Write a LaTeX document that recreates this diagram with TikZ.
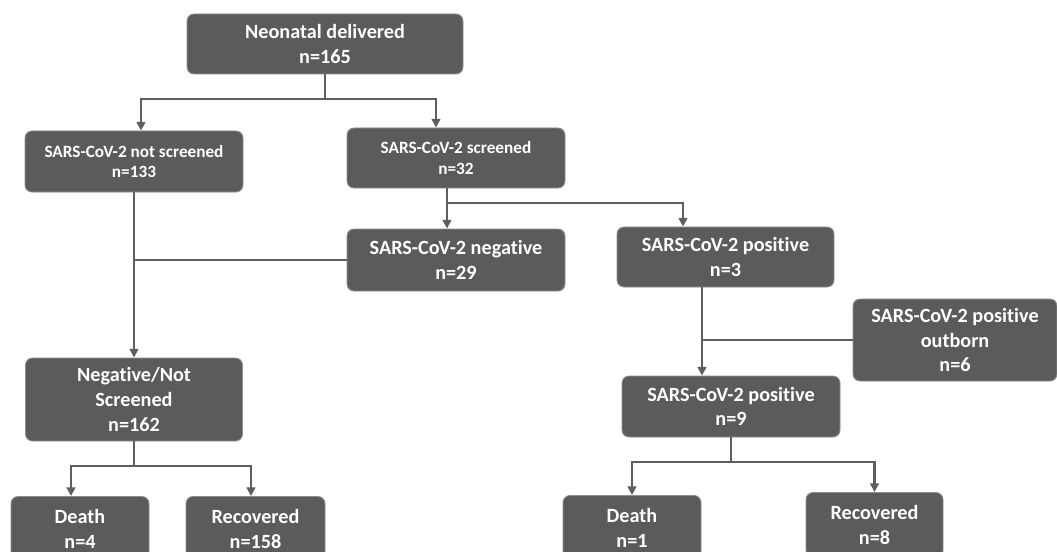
\documentclass[tikz,border=0pt]{standalone}
\usepackage{fontspec}
\setmainfont{Carlito}[Ligatures=NoCommon]
\usepackage{tikz}
\usetikzlibrary{arrows.meta}

\definecolor{boxgray}{HTML}{5B5B5B}
\definecolor{edgegray}{HTML}{8E8E8E}
\definecolor{linegray}{HTML}{5E5E5E}

\tikzset{
  box/.style={draw=edgegray, line width=0.5pt, fill=boxgray, rounded corners=0.14cm,
    text=white, font=\bfseries\fontsize{11.5}{14}\selectfont, align=center, inner sep=1pt},
  smallbox/.style={box, font=\bfseries\fontsize{9.8}{11.6}\selectfont},
  link/.style={draw=linegray, line width=1.3pt},
  arr/.style={link, -{Triangle[length=5pt,width=5pt]}},
}

\begin{document}
\begin{tikzpicture}
\useasboundingbox (0,0) rectangle (21.14,11.02);
% Delivered and screening
\node[box, minimum width=5.52cm, minimum height=1.2cm] (deliv) at (6.5,10.14) {Neonatal delivered\\n=165};
\node[smallbox, minimum width=4.36cm, minimum height=1.22cm] (notscr) at (2.68,7.79) {SARS-CoV-2 not screened\\n=133};
\node[smallbox, minimum width=4.36cm, minimum height=1.2cm] (scr) at (9.12,7.86) {SARS-CoV-2 screened\\n=32};
% Screening results
\node[box, minimum width=4.36cm, minimum height=1.24cm] (neg) at (9.12,5.82) {SARS-CoV-2 negative\\n=29};
\node[box, minimum width=4.34cm, minimum height=1.2cm] (pos3) at (14.51,5.88) {SARS-CoV-2 positive\\n=3};
\node[box, minimum width=4.08cm, minimum height=1.64cm] (outb) at (19.1,4.22) {SARS-CoV-2 positive\\outborn\\n=6};
\node[box, minimum width=4.36cm, minimum height=1.22cm] (pos9) at (14.62,2.89) {SARS-CoV-2 positive\\n=9};
\node[box, minimum width=4.34cm, minimum height=1.66cm] (negnot) at (2.68,3.03) {Negative/Not\\Screened\\n=162};
% Outcomes
\node[box, minimum width=2.76cm, minimum height=1.3cm] (death4) at (1.6,0.44) {Death\\n=4};
\node[box, minimum width=2.78cm, minimum height=1.3cm] (rec158) at (5.11,0.44) {Recovered\\n=158};
\node[box, minimum width=2.76cm, minimum height=1.3cm] (death1) at (12.64,0.46) {Death\\n=1};
\node[box, minimum width=2.74cm, minimum height=1.3cm] (rec8) at (17.49,0.52) {Recovered\\n=8};

% connectors
\coordinate (j1) at (6.5,9.04);
\draw[link] (deliv.south) -- (j1);
\draw[arr] (j1) -| ([xshift=0.14cm]notscr.north);
\draw[arr] (j1) -| ([xshift=-0.4cm]scr.north);
\coordinate (j2) at ([xshift=-0.18cm]scr.south |- 0,6.96);
\draw[arr] ([xshift=-0.18cm]scr.south) -- ([xshift=-0.18cm]neg.north);
\draw[arr] (j2) -| ([xshift=-0.85cm]pos3.north);
\draw[arr] (notscr.south) -- (negnot.north);
\draw[link] (neg.west) -- (neg.west -| notscr.south);
\coordinate (d3) at ([xshift=-0.47cm]pos3.south);
\draw[arr] (d3) -- (d3 |- pos9.north);
\draw[link] (outb.west) -- (outb.west -| d3);
\coordinate (j3) at (2.68,1.7);
\draw[link] (negnot.south) -- (j3);
\draw[arr] (j3) -| ([xshift=-0.18cm]death4.north);
\draw[arr] (j3) -| ([xshift=-0.09cm]rec158.north);
\coordinate (j4) at (14.62,1.78);
\draw[link] (pos9.south) -- (j4);
\draw[arr] (j4) -| (death1.north);
\draw[arr] (j4) -| (rec8.north);
\end{tikzpicture}
\end{document}
